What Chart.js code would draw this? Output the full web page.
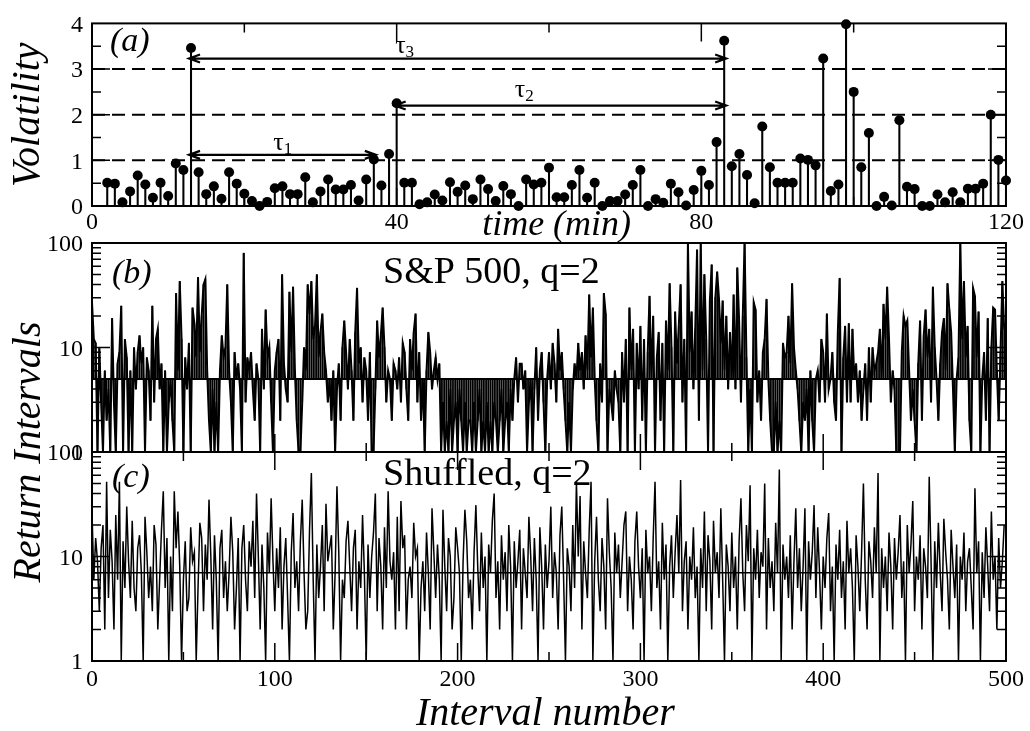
<!DOCTYPE html>
<html>
<head>
<meta charset="utf-8">
<script src="https://cdn.jsdelivr.net/npm/chart.js@4.4.1/dist/chart.umd.min.js"></script>
<style>
  html, body { margin: 0; padding: 0; background: #fff; }
  #wrap { position: relative; width: 1030px; height: 731px; }
  #wrap canvas { position: absolute; left: 0; top: 0; }
</style>
</head>
<body>
<div id="wrap">
  <canvas id="chartA" width="1030" height="731"></canvas>
  <canvas id="chartB" width="1030" height="731"></canvas>
  <canvas id="chartC" width="1030" height="731"></canvas>
</div>
<script>
// ---- panel (a): volatility, one value per minute from t = 2 to t = 120
const firstMinute = 2;
const volatility = [
  0.51, 0.49, 0.08, 0.32, 0.67, 0.47, 0.18, 0.51, 0.22, 0.93, 0.79, 3.46, 0.74, 0.26, 0.43,
  0.16, 0.74, 0.49, 0.27, 0.11, 0.00, 0.09, 0.39, 0.43, 0.26, 0.26, 0.63, 0.08, 0.32, 0.58,
  0.36, 0.36, 0.46, 0.12, 0.58, 1.02, 0.45, 1.14, 2.25, 0.51, 0.51, 0.04, 0.08, 0.25, 0.12,
  0.52, 0.31, 0.45, 0.15, 0.58, 0.37, 0.11, 0.44, 0.26, 0.00,
  0.58, 0.47, 0.51, 0.84, 0.19, 0.19, 0.46, 0.79, 0.18, 0.51, 0.00, 0.11, 0.11, 0.25, 0.46,
  0.79, 0.00, 0.15, 0.07, 0.49, 0.30, 0.01, 0.35, 0.77, 0.46, 1.40, 3.62, 0.87, 1.14, 0.68,
  0.06, 1.74, 0.85, 0.51, 0.51, 0.51, 1.04, 1.01, 0.89, 3.23, 0.33, 0.47, 3.98, 2.50, 0.85,
  1.60, 0.00, 0.20, 0.01, 1.88, 0.42, 0.37, 0.00, 0.00, 0.25, 0.08, 0.30, 0.08, 0.38, 0.38,
  0.49, 2.00, 1.01, 0.56
];
const thresholds = [1, 2, 3];
// return intervals tau1..tau3 : start minute, end minute, height of the arrow
const tauFrom = [13, 40, 13];
const tauTo = [37, 83, 83];
const tauLevel = [1.12, 2.2, 3.23];
const tauNames = ['1', '2', '3'];

const xTicksA = [0, 40, 80, 120];
const yTicksA = [0, 1, 2, 3, 4];

// ---- panels (b) and (c): 500 return intervals, S&P 500 and shuffled
const sp500Intervals = [
  27,12,11,1,10,3,1,6,2,4,1,19,3,1,7,9,25,1,12,8,1,6,1,10,4,
  9,13,7,10,1,8,6,2,25,3,12,15,4,7,1,6,1,3,5,2,1,33,6,43,12,
  1,8,4,11,1,24,17,8,47,9,20,40,45,6,2,1,4,1,3,1,6,13,8,10,40,
  6,3,1,9,5,7,4,1,80,3,8,6,9,4,2,7,5,1,15,4,23,8,10,3,1,
  6,9,12,2,50,7,4,3,34,9,38,6,2,1,1,3,10,6,40,21,43,12,16,50,8,
  14,21,9,6,3,5,2,6,1,4,7,2,10,18,9,4,12,6,2,14,37,7,10,3,8,
  6,2,9,1,1,4,18,8,13,24,10,3,6,5,2,7,6,4,8,3,11,9,4,2,12,
  6,14,21,3,9,2,5,1,6,14,9,4,6,8,5,7,1,3,1,2,1,4,1,2,3,
  1,4,2,1,3,1,2,2,1,3,1,2,4,1,2,1,3,1,2,1,3,2,1,2,4,
  1,2,3,1,4,2,5,8,3,7,7,4,6,1,3,5,1,4,10,2,6,9,3,1,5,
  9,4,11,7,3,15,6,9,4,2,1,3,1,4,7,5,11,6,9,4,13,6,32,8,24,
  5,2,1,7,3,33,21,1,4,3,2,6,4,3,1,9,3,12,1,24,6,15,1,11,4,
  16,2,12,1,9,31,5,20,1,8,14,2,11,1,18,6,41,10,1,22,7,16,40,3,12,
  1,100,9,22,4,15,86,2,100,6,50,12,1,28,62,1,30,53,29,11,28,6,20,4,14,
  5,32,4,58,18,3,20,100,8,1,4,1,27,23,3,6,2,9,12,29,5,2,1,1,3,
  1,2,1,11,8,9,20,7,41,10,6,4,2,1,3,2,4,1,6,2,1,5,6,3,12,
  9,3,21,4,5,9,3,2,14,46,1,8,16,3,17,3,15,5,7,3,6,2,4,7,2,
  10,3,10,6,7,9,15,5,26,12,38,12,3,6,4,1,1,1,9,20,16,18,6,2,4,
  2,1,7,18,2,13,23,8,15,3,38,10,5,2,7,14,19,6,41,23,14,4,1,5,8,
  100,12,43,8,16,2,1,37,31,8,22,1,5,9,2,19,1,10,24,23,6,2,9,43,15
];
const shuffledIntervals = [
  27,6,15,9,3,12,20,2,52,4,18,9,2,25,6,52,1,14,5,30,9,4,22,5,3,
  12,16,7,1,24,11,4,8,3,20,13,2,6,18,42,5,15,1,10,3,42,12,27,8,1,
  6,14,3,4,19,9,11,1,5,21,15,3,13,6,35,10,2,16,6,1,12,18,4,9,3,
  7,24,11,2,5,15,1,12,20,6,3,14,8,22,4,40,10,2,13,5,1,17,7,36,9,
  3,12,5,19,2,8,15,4,1,11,26,5,9,3,14,35,7,2,3,18,63,6,1,13,4,
  8,20,3,32,9,12,16,2,7,47,11,1,6,4,14,22,8,3,12,18,2,9,5,25,7,
  1,13,4,10,17,40,3,15,8,2,19,5,42,9,6,11,2,24,3,34,12,16,2,6,8,
  4,21,10,12,1,5,9,3,17,7,2,29,11,4,13,6,1,28,8,3,15,10,2,4,19,
  12,7,1,9,28,14,4,6,2,11,31,8,3,17,5,10,1,13,7,22,40,4,9,2,16,
  6,11,3,20,8,1,14,5,9,18,2,12,7,4,24,10,3,15,6,1,19,8,2,13,5,
  9,30,4,11,7,2,16,30,6,1,12,8,3,20,5,52,10,38,2,14,7,4,18,52,1,
  9,24,6,3,15,8,2,36,11,5,1,17,7,13,4,9,20,27,3,10,6,2,14,27,8,
  4,12,1,18,7,10,3,15,52,5,9,2,21,6,13,1,8,16,4,11,25,7,54,3,9,
  14,2,10,6,19,4,8,1,12,5,27,3,16,9,2,22,7,11,4,29,6,1,13,8,3,
  17,5,10,2,14,36,7,3,20,9,48,1,12,6,18,4,11,8,50,2,15,5,9,3,21,
  7,68,1,13,6,10,4,16,2,9,29,5,12,3,8,29,1,14,6,11,31,4,19,7,2,
  10,5,15,26,3,8,1,13,6,18,4,9,2,22,7,12,5,1,16,8,3,11,50,6,2,
  14,9,4,19,7,63,1,12,5,10,3,17,8,2,15,6,11,25,4,9,1,20,7,13,34,
  3,10,6,16,2,12,8,4,58,9,1,14,5,21,7,3,23,11,6,2,18,8,4,13,1,
  10,6,17,3,9,12,5,2,45,7,14,1,11,4,19,8,3,27,6,10,2,15,5,9,20
];
const meanB = 5;
const meanC = 7;
const xTicksBC = [0, 100, 200, 300, 400, 500];
const yTicksLog = [1, 10, 100];

if (sp500Intervals.length !== 500 || shuffledIntervals.length !== 500) {
  throw new Error('series length ' + sp500Intervals.length + ' / ' + shuffledIntervals.length);
}

const SERIF = '"Liberation Serif", "Times New Roman", serif';
const tickFont = { family: SERIF, size: 24 };

// draws the box round the plot and the inward tick marks
function makeFrame(cfg) {
  return {
    id: 'frame',
    afterDatasetsDraw(chart) {
      const { ctx, chartArea: a, scales: { x, y } } = chart;
      ctx.save();
      ctx.strokeStyle = '#000';
      ctx.lineWidth = 1.5;
      ctx.beginPath();
      const xt = (vals, len) => vals.forEach(v => {
        const p = x.getPixelForValue(v);
        if (cfg.top) { ctx.moveTo(p, a.top); ctx.lineTo(p, a.top + len); }
        if (cfg.bottom) { ctx.moveTo(p, a.bottom); ctx.lineTo(p, a.bottom - len); }
      });
      const yt = (vals, len) => vals.forEach(v => {
        const p = y.getPixelForValue(v);
        ctx.moveTo(a.left, p); ctx.lineTo(a.left + len, p);
        ctx.moveTo(a.right, p); ctx.lineTo(a.right - len, p);
      });
      xt(cfg.xMajor, 18); xt(cfg.xMinor, 9);
      yt(cfg.yMajor, 18); yt(cfg.yMinor, 9);
      ctx.stroke();
      ctx.lineWidth = 2;
      ctx.strokeRect(a.left, a.top, a.right - a.left, a.bottom - a.top);
      ctx.restore();
    }
  };
}

function say(ctx, str, x, y, size, opts = {}) {
  ctx.save();
  ctx.fillStyle = '#000';
  ctx.font = (opts.italic ? 'italic ' : '') + size + 'px ' + SERIF;
  ctx.textAlign = opts.align || 'left';
  ctx.textBaseline = 'alphabetic';
  ctx.translate(x, y);
  if (opts.rotate) ctx.rotate(opts.rotate);
  ctx.fillText(str, 0, 0);
  const w = ctx.measureText(str).width;
  ctx.restore();
  return w;
}

function tauLabel(ctx, sub, x, y) {
  const w = say(ctx, '\u03c4', x, y, 26);
  say(ctx, sub, x + w, y + 4, 17);
}

function baseScales(xMax, xTicks, yAxis, showX, xHeight, xPad) {
  return {
    x: {
      type: 'linear', min: 0, max: xMax, offset: false,
      afterBuildTicks: s => { s.ticks = xTicks.map(v => ({ value: v })); },
      afterFit: s => { s.height = xHeight; },
      grid: { display: false, drawTicks: false },
      border: { display: false },
      ticks: { display: showX, font: tickFont, color: '#000', padding: xPad, maxRotation: 0, autoSkip: false }
    },
    y: Object.assign({
      afterFit: s => { s.width = 92; },
      grid: { display: false, drawTicks: false },
      border: { display: false },
      ticks: { font: tickFont, color: '#000', padding: 9, labelOffset: 2, autoSkip: false, callback: v => String(v) }
    }, yAxis)
  };
}

const common = {
  responsive: false,
  animation: false,
  devicePixelRatio: 1,
  events: [],
  plugins: { legend: { display: false }, tooltip: { enabled: false } }
};

// ---------- (a)
const minutePoints = volatility.map((v, i) => ({ x: firstMinute + i, y: v }));
new Chart(document.getElementById('chartA'), {
  type: 'bar',
  data: {
    datasets: [
      { type: 'scatter', data: minutePoints, pointRadius: 5, pointBorderWidth: 0,
        pointBackgroundColor: '#000', showLine: false, clip: false, order: 0 },
      { type: 'bar', data: minutePoints, backgroundColor: '#000', barThickness: 1.4, order: 1 },
      ...thresholds.map(t => ({
        type: 'line', data: [{ x: 0, y: t }, { x: 120, y: t }], borderColor: '#000',
        borderWidth: 2, borderDash: [13, 7], pointRadius: 0, order: 2
      }))
    ]
  },
  options: Object.assign({}, common, {
    layout: { padding: { top: 16, right: 24, bottom: 491, left: 0 } },
    scales: baseScales(120, xTicksA, {
      type: 'linear', min: 0, max: 4,
      afterBuildTicks: s => { s.ticks = yTicksA.map(v => ({ value: v })); }
    }, true, 34, 2)
  }),
  plugins: [
    makeFrame({ top: true, bottom: true, xMajor: [40, 80], xMinor: [20, 60, 100],
      yMajor: [1, 2, 3], yMinor: [0.5, 1.5, 2.5, 3.5] }),
    {
      id: 'notesA',
      afterDraw(chart) {
        const { ctx, chartArea: a, scales: { x, y } } = chart;
        ctx.save();
        ctx.strokeStyle = '#000';
        ctx.lineWidth = 2.2;
        tauFrom.forEach((f, k) => {
          const x1 = x.getPixelForValue(f) - 2, x2 = x.getPixelForValue(tauTo[k]) + 2;
          const yy = y.getPixelForValue(tauLevel[k]);
          ctx.beginPath();
          ctx.moveTo(x1, yy); ctx.lineTo(x2, yy);
          ctx.moveTo(x1 + 11, yy - 4); ctx.lineTo(x1, yy); ctx.lineTo(x1 + 11, yy + 4);
          ctx.moveTo(x2 - 11, yy - 4); ctx.lineTo(x2, yy); ctx.lineTo(x2 - 11, yy + 4);
          ctx.stroke();
        });
        ctx.restore();
        tauLabel(ctx, tauNames[0], x.getPixelForValue(23.8), y.getPixelForValue(1.22));
        tauLabel(ctx, tauNames[1], x.getPixelForValue(55.5), y.getPixelForValue(2.38));
        tauLabel(ctx, tauNames[2], x.getPixelForValue(39.8), y.getPixelForValue(3.35));
        say(ctx, '(a)', a.left + 18, a.top + 28, 34, { italic: true });
        say(ctx, 'Volatility', 39, (a.top + a.bottom) / 2, 40,
          { italic: true, align: 'center', rotate: -Math.PI / 2 });
        say(ctx, 'time (min)', x.getPixelForValue(61), a.bottom + 29, 36,
          { italic: true, align: 'center' });
      }
    }
  ]
});

// ---------- (b)
const pointsB = sp500Intervals.map((v, i) => ({ x: i, y: v }));
const dropsB = sp500Intervals.map((v, i) => ({ x: i, y: [meanB, v] }));
new Chart(document.getElementById('chartB'), {
  type: 'bar',
  data: {
    datasets: [
      { type: 'line', data: pointsB, borderColor: '#000', borderWidth: 2,
        pointRadius: 0, tension: 0, order: 0 },
      { type: 'line', data: [{ x: 0, y: meanB }, { x: 500, y: meanB }], borderColor: '#000',
        borderWidth: 2, pointRadius: 0, order: 1 },
      { type: 'bar', data: dropsB, backgroundColor: '#000', barThickness: 1, order: 2 }
    ]
  },
  options: Object.assign({}, common, {
    layout: { padding: { top: 243, right: 24, bottom: 279, left: 0 } },
    scales: baseScales(500, xTicksBC, {
      type: 'logarithmic', min: 1, max: 100,
      afterBuildTicks: s => { s.ticks = yTicksLog.map(v => ({ value: v })); }
    }, false, 0, 0)
  }),
  plugins: [
    makeFrame({ top: false, bottom: true, xMajor: [100, 200, 300, 400], xMinor: [50, 150, 250, 350, 450],
      yMajor: [10], yMinor: [2, 3, 4, 5, 6, 7, 8, 9, 20, 30, 40, 50, 60, 70, 80, 90] }),
    {
      id: 'notesB',
      afterDraw(chart) {
        const { ctx, chartArea: a } = chart;
        say(ctx, '(b)', a.left + 20, a.top + 40, 34, { italic: true });
        say(ctx, 'S&P 500, q=2', 383, a.top + 40, 38);
      }
    }
  ]
});

// ---------- (c)
const pointsC = shuffledIntervals.map((v, i) => ({ x: i, y: v }));
new Chart(document.getElementById('chartC'), {
  type: 'line',
  data: {
    datasets: [
      { data: pointsC, borderColor: '#000', borderWidth: 1.5, pointRadius: 0, tension: 0, order: 0 },
      { data: [{ x: 0, y: meanC }, { x: 500, y: meanC }], borderColor: '#000',
        borderWidth: 1.6, pointRadius: 0, order: 1 }
    ]
  },
  options: Object.assign({}, common, {
    layout: { padding: { top: 452, right: 24, bottom: 40, left: 0 } },
    scales: baseScales(500, xTicksBC, {
      type: 'logarithmic', min: 1, max: 100,
      afterBuildTicks: s => { s.ticks = yTicksLog.map(v => ({ value: v })); }
    }, true, 30, 4)
  }),
  plugins: [
    makeFrame({ top: true, bottom: true, xMajor: [100, 200, 300, 400], xMinor: [50, 150, 250, 350, 450],
      yMajor: [10], yMinor: [2, 3, 4, 5, 6, 7, 8, 9, 20, 30, 40, 50, 60, 70, 80, 90] }),
    {
      id: 'notesC',
      afterDraw(chart) {
        const { ctx, chartArea: a, scales: { x } } = chart;
        say(ctx, '(c)', a.left + 20, a.top + 35, 34, { italic: true });
        say(ctx, 'Shuffled, q=2', 383, a.top + 33, 38);
        say(ctx, 'Return Intervals', 40, a.top, 40,
          { italic: true, align: 'center', rotate: -Math.PI / 2 });
        say(ctx, 'Interval number', x.getPixelForValue(248), 725, 40,
          { italic: true, align: 'center' });
      }
    }
  ]
});
</script>
</body>
</html>
